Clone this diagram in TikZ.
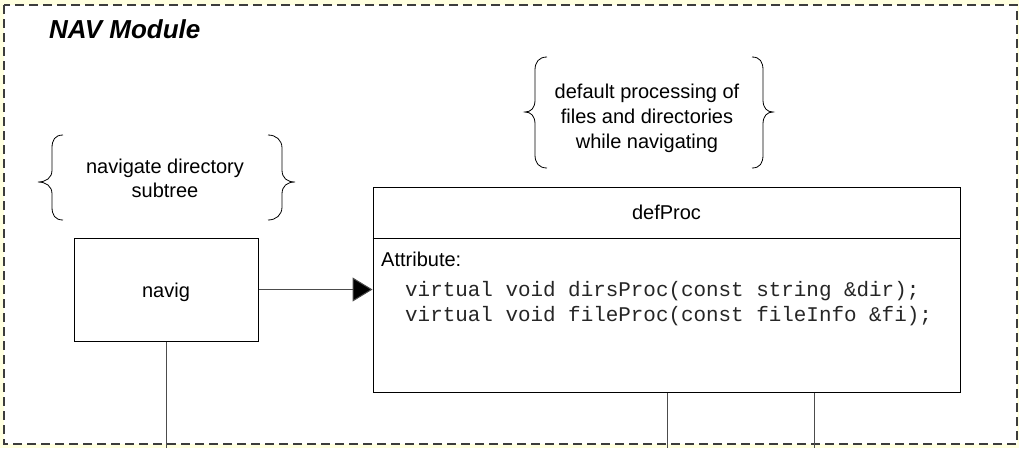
\documentclass[tikz,border=0pt]{standalone}
\usepackage{fontspec}
\setmainfont{Liberation Sans}
\newfontfamily\codefont{Liberation Mono}
\usetikzlibrary{arrows.meta}
\definecolor{bgyellow}{RGB}{255,255,224}
\definecolor{framegray}{RGB}{60,60,60}
\tikzset{
  umlbox/.style={draw=black, line width=1pt, fill=white, inner sep=0pt},
  txt/.style={font=\fontsize{20}{24}\selectfont, inner sep=0pt},
  codetxt/.style={font=\codefont\fontsize{20.9}{24}\selectfont, text=black!85, inner sep=0pt, anchor=base west},
  bracestyle/.style={draw=black, line width=0.8pt},
  conn/.style={draw=black!70, line width=1pt},
  modframe/.style={draw=framegray, line width=1.5pt, dash pattern=on 9pt off 5pt, fill=white}
}
\begin{document}
\begin{tikzpicture}[x=1pt,y=-1pt]
\useasboundingbox (0,0) rectangle (1019,448);
\fill[bgyellow] (0,0) rectangle (1019,448);
\draw[modframe] (4,5) rectangle (1017,444);

% title
\node[txt, font=\bfseries\itshape\fontsize{26}{30}\selectfont, anchor=base west] (title) at (49,38) {NAV Module};

% braces group 1
\draw[bracestyle] (63,135) .. controls (55,135) and (52,140) .. (52,148) -- (52,170)
  .. controls (52,178) and (46,182) .. (38,182) .. controls (46,182) and (52,186) .. (52,194)
  -- (52,207) .. controls (52,215) and (55,220) .. (63,220);
\draw[bracestyle] (268,135) .. controls (276,135) and (282,140) .. (282,148) -- (282,170)
  .. controls (282,178) and (287,182) .. (295,182) .. controls (287,182) and (282,186) .. (282,194)
  -- (282,207) .. controls (282,215) and (276,220) .. (268,220);
\node[txt, anchor=base] (n1a) at (165,173) {navigate directory};
\node[txt, anchor=base] (n1b) at (165,197) {subtree};

% braces group 2
\draw[bracestyle] (547,57) .. controls (539,57) and (535,62) .. (535,70) -- (535,100)
  .. controls (535,108) and (531,112) .. (525,112) .. controls (531,112) and (535,116) .. (535,124)
  -- (535,155) .. controls (535,163) and (539,168) .. (547,168);
\draw[bracestyle] (752,57) .. controls (760,57) and (763,62) .. (763,70) -- (763,100)
  .. controls (763,108) and (767,112) .. (773,112) .. controls (767,112) and (763,116) .. (763,124)
  -- (763,155) .. controls (763,163) and (760,168) .. (752,168);
\node[txt, anchor=base] (n2a) at (647,98) {default processing of};
\node[txt, anchor=base] (n2b) at (647,123) {files and directories};
\node[txt, anchor=base] (n2c) at (647,148) {while navigating};

% navig box
\node[umlbox, minimum width=184pt, minimum height=103pt] (navig) at (166,289.5) {};
\node[txt, anchor=base] (navigtxt) at (166,297) {navig};

% defProc box
\node[umlbox, minimum width=587pt, minimum height=205pt] (defproc) at (666.5,289.5) {};
\draw[black, line width=1pt] (defproc.west |- 0,238) -- (defproc.east |- 0,238);
\node[txt, anchor=base] (defname) at (666.5,219) {defProc};
\node[txt, anchor=base west] (attr) at (381,266) {Attribute:};
\node[codetxt] (m1) at (405,296) {virtual void dirsProc(const string \&dir);};
\node[codetxt] (m2) at (405,321) {virtual void fileProc(const fileInfo \&fi);};

% connectors
\draw[conn, -{Triangle[length=20pt,width=24pt,fill=black]}] (navig.east) -- (defproc.west);
\coordinate (e1) at (166,448);
\coordinate (e2) at (667,448);
\coordinate (e3) at (814,448);
\draw[conn] (navig.south) -- (e1);
\draw[conn] (defproc.south -| e2) -- (e2);
\draw[conn] (defproc.south -| e3) -- (e3);
\end{tikzpicture}
\end{document}
